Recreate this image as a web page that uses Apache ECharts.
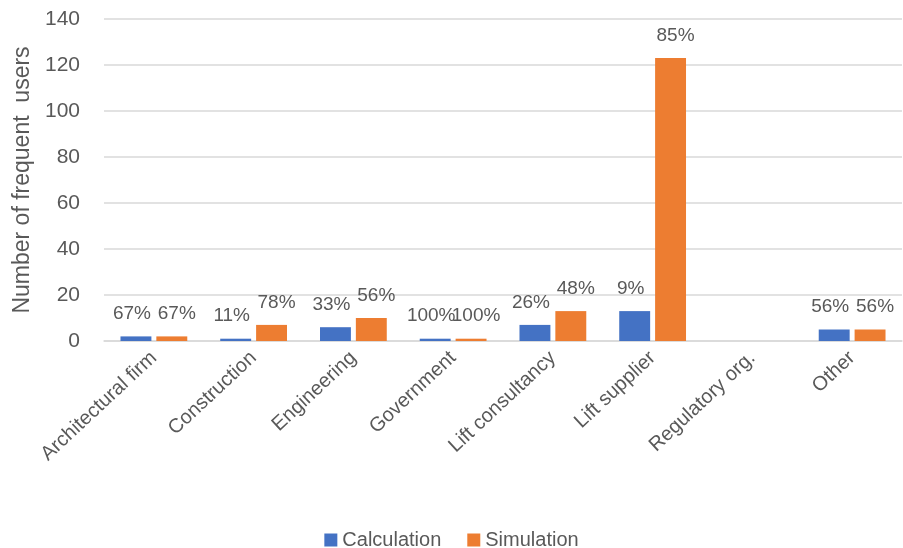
<!DOCTYPE html>
<html>
<head>
<meta charset="utf-8">
<script src="https://cdn.jsdelivr.net/npm/echarts@6/dist/echarts.min.js"></script>
<style>
  html, body { margin: 0; padding: 0; background: #fff; }
  #chart { width: 903px; height: 548px; }
</style>
</head>
<body>
<div id="chart"></div>
<script>
// Data
const categories = ['Architectural firm', 'Construction', 'Engineering', 'Government',
  'Lift consultancy', 'Lift supplier', 'Regulatory org.', 'Other']
const calculation = [2, 1, 6, 1, 7, 13, 0, 5]
const simulation = [2, 7, 10, 1, 13, 123, 0, 5]
const calcPct = ['67%', '11%', '33%', '100%', '26%', '9%', '', '56%']
const simPct = ['67%', '78%', '56%', '100%', '48%', '85%', '', '56%']

const textColor = '#595959'
const font = '"Liberation Sans", Arial, sans-serif'

const chart = echarts.init(document.getElementById('chart'))

// percentage labels sit above the bars, nudged apart a little
const barLabel = (pcts, dx) => ({
  show: true,
  position: 'top',
  distance: 13,
  offset: [dx, 0],
  color: textColor,
  fontSize: 19,
  fontFamily: font,
  formatter: (p) => pcts[p.dataIndex]
})

chart.setOption({
  animation: false,
  backgroundColor: '#fff',
  textStyle: { fontFamily: font },
  grid: { left: 104, right: 1, top: 19, bottom: 207 },
  legend: {
    top: 525,
    left: 'center',
    itemWidth: 13,
    itemHeight: 13,
    itemGap: 26,
    icon: 'rect',
    textStyle: { color: textColor, fontSize: 20, fontFamily: font },
    data: ['Calculation', 'Simulation']
  },
  xAxis: {
    type: 'category',
    data: categories,
    axisTick: { show: false },
    axisLine: { lineStyle: { color: '#d9d9d9', width: 1.5 } },
    axisLabel: {
      rotate: 43,
      interval: 0,
      color: textColor,
      fontSize: 20,
      fontFamily: font,
      margin: 14
    }
  },
  yAxis: {
    type: 'value',
    min: 0,
    max: 140,
    interval: 20,
    name: 'Number of frequent  users',
    nameLocation: 'middle',
    nameGap: 70,
    nameTextStyle: { color: textColor, fontSize: 23, fontFamily: font },
    axisLine: { show: false },
    axisTick: { show: false },
    splitLine: { lineStyle: { color: '#d9d9d9', width: 1.5 } },
    axisLabel: { color: textColor, fontSize: 21, fontFamily: font, margin: 24 }
  },
  series: [
    {
      name: 'Calculation',
      type: 'bar',
      data: calculation,
      barWidth: '31%',
      barGap: '16%',
      itemStyle: { color: '#4472C4' },
      label: barLabel(calcPct, -4)
    },
    {
      name: 'Simulation',
      type: 'bar',
      data: simulation,
      barWidth: '31%',
      itemStyle: { color: '#ED7D31' },
      label: barLabel(simPct, 5)
    }
  ]
})
</script>
</body>
</html>
